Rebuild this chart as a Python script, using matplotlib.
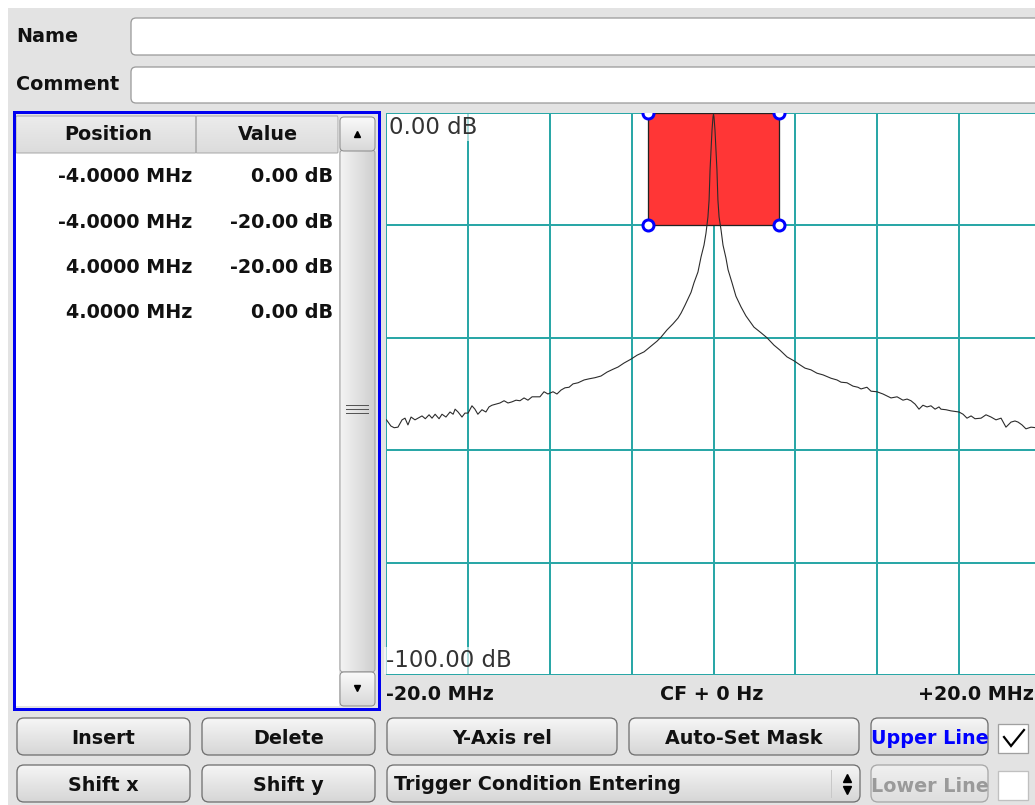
import numpy as np
import matplotlib
matplotlib.use("Agg")
import matplotlib.pyplot as plt
from matplotlib.patches import FancyBboxPatch, Rectangle
from matplotlib.colors import LinearSegmentedColormap

# ---------------- data ----------------
mask_freq = [-4.0, -4.0, 4.0, 4.0]          # MHz
mask_db = [0.0, -20.0, -20.0, 0.0]          # dB

trace_freq = [
    -19.97, -19.7, -19.5, -19.27, -19.02, -18.84, -18.66, -18.47, -18.23, -18.05,
    -17.8, -17.6, -17.37, -17.19, -17.0, -16.76, -16.58, -16.34, -16.09, -15.9,
    -15.78, -15.6, -15.36, -15.18, -14.99, -14.75, -14.57, -14.39, -14.14, -13.9,
    -13.71, -13.53, -13.28, -13.04, -12.79, -12.55, -12.31, -12.06, -11.82, -11.57,
    -11.33, -11.08, -10.84, -10.6, -10.35, -10.11, -9.8, -9.56, -9.31, -9.07,
    -8.82, -8.58, -8.27, -7.9, -7.6, -7.24, -6.87, -6.5, -6.14, -5.83,
    -5.47, -5.04, -4.67, -4.24, -3.82, -3.45, -3.21, -2.84, -2.47, -2.17,
    -1.98, -1.74, -1.56, -1.37, -1.19, -0.95, -0.76, -0.58, -0.46, -0.34,
    -0.27, -0.21, -0.15, -0.09, -0.03, 0.0,
    0.03, 0.09, 0.15, 0.21, 0.27, 0.34, 0.46, 0.58, 0.76, 0.89,
    1.13, 1.37, 1.68, 1.98, 2.47, 2.9, 3.27, 3.69, 4.06, 4.49,
    4.92, 5.22, 5.59, 5.95, 6.32, 6.69, 7.18, 7.54, 7.79, 8.15,
    8.52, 8.82, 9.01, 9.37, 9.62, 9.98, 10.35, 10.84, 11.21, 11.57,
    11.82, 12.06, 12.31, 12.55, 12.79, 13.04, 13.28, 13.53, 13.77, 13.89,
    14.2, 14.5, 14.99, 15.24, 15.48, 15.73, 15.97, 16.34, 16.64, 16.95,
    17.25, 17.56, 17.86, 18.17, 18.41, 18.6, 18.84, 19.08, 19.39, 19.69, 20.0,
]
trace_db = [
    -54.6, -55.7, -56.0, -55.9, -54.6, -54.3, -55.5, -54.1, -54.6, -54.3,
    -53.9, -54.4, -53.7, -54.3, -53.6, -54.4, -53.6, -54.1, -53.2, -53.6,
    -52.7, -53.2, -54.1, -53.4, -53.4, -52.1, -52.7, -53.6, -52.8, -53.2,
    -52.3, -52.0, -51.8, -51.6, -51.2, -51.6, -51.4, -51.1, -51.2, -50.7,
    -51.1, -50.5, -50.5, -50.5, -49.6, -50.0, -49.6, -50.0, -49.3, -48.9,
    -48.8, -48.2, -48.0, -47.5, -47.3, -47.1, -46.8, -46.1, -45.6, -45.2,
    -44.5, -43.8, -43.1, -42.5, -41.5, -40.6, -39.9, -38.6, -37.5, -36.5,
    -35.6, -34.2, -33.1, -31.9, -30.2, -28.3, -25.6, -23.5, -21.4, -18.5,
    -15.5, -10.1, -6.6, -3.0, -0.7, -0.2,
    -0.7, -3.0, -6.6, -10.1, -15.5, -18.5, -20.8, -23.5, -25.8, -27.9,
    -30.2, -32.6, -34.5, -36.1, -38.1, -39.1, -40.0, -41.3, -42.2, -43.4,
    -44.1, -44.7, -45.4, -45.7, -46.3, -46.6, -47.2, -47.5, -47.9, -48.0,
    -48.6, -48.8, -49.1, -48.8, -49.5, -49.6, -50.0, -50.7, -50.5, -51.1,
    -50.9, -51.2, -51.8, -52.7, -52.0, -52.3, -52.1, -52.7, -52.3, -52.7,
    -52.8, -53.0, -53.2, -53.6, -54.3, -53.9, -54.4, -54.3, -53.7, -54.1,
    -54.6, -54.3, -55.9, -55.0, -54.8, -55.0, -55.5, -56.2, -55.9, -56.0, -56.0,
]

x_span = (-20.0, 20.0)
y_span = (-100.0, 0.0)
x_div = 5.0
y_div = 20.0
y_top_label = "0.00 dB"
y_bot_label = "-100.00 dB"
x_labels = ["-20.0 MHz", "CF + 0 Hz", "+20.0 MHz"]
col_headers = ["Position", "Value"]
buttons_row1 = ["Insert", "Delete", "Y-Axis rel", "Auto-Set Mask"]
buttons_row2 = ["Shift x", "Shift y"]
dropdown_text = "Trigger Condition Entering"
line_buttons = ["Upper Line", "Lower Line"]
field_labels = ["Name", "Comment"]

# ---------------- figure ----------------
W, H = 1035, 805
PT = 0.72
FS = 13.8
FONT = "DejaVu Sans"
fig = plt.figure(figsize=(W / 100, H / 100), dpi=100, facecolor="white")
ui = fig.add_axes([0, 0, 1, 1])
ui.axis("off")


def grad_box(x0, y0, x1, y1, c_top, c_bot, ec, r=6, lw=1.0, horizontal=False, z=2):
    patch = FancyBboxPatch((x0, y0), x1 - x0, y1 - y0,
                           boxstyle=f"round,pad=0,rounding_size={r}",
                           fc="none", ec=ec, lw=lw * PT, zorder=z + 0.1)
    ui.add_patch(patch)
    cmap = LinearSegmentedColormap.from_list("g", [c_top, c_bot])
    g = np.linspace(0, 1, 64)
    g = g.reshape(1, -1) if horizontal else g.reshape(-1, 1)
    im = ui.imshow(g, cmap=cmap, extent=(x0, x1, y1, y0), aspect="auto",
                   zorder=z, interpolation="bilinear")
    im.set_clip_path(patch)
    return patch


def label(x, y, s, ha="center", color="#111111", size=FS, weight="bold", z=5):
    ui.text(x, y, s, ha=ha, va="center", color=color, fontsize=size,
            fontweight=weight, family=FONT, zorder=z)


# background panel
ui.add_patch(Rectangle((8, 8), W, H, fc="#e3e3e3", ec="none", zorder=0))

# name / comment fields
for (ytop, ybot), txt in zip([(18, 55), (67, 103)], field_labels):
    ui.add_patch(FancyBboxPatch((131, ytop), 930, ybot - ytop,
                                boxstyle="round,pad=0,rounding_size=5",
                                fc="white", ec="#9c9c9c", lw=1.3 * PT, zorder=1))
    label(16, (ytop + ybot) / 2, txt, ha="left")

# ---- table ----
ui.add_patch(Rectangle((16, 116), 323, 590, fc="white", ec="none", zorder=1))
grad_box(16, 116, 196, 153, "#ececec", "#dcdcdc", "#a8a8a8", r=1, z=2)
grad_box(196, 116, 338, 153, "#ececec", "#dcdcdc", "#a8a8a8", r=1, z=2)
label(108, 134, col_headers[0])
label(268, 134, col_headers[1])
for i, (f, d) in enumerate(zip(mask_freq, mask_db)):
    yy = 177 + 45 * i
    label(192, yy, f"{f:.4f} MHz", ha="right")
    label(333, yy, f"{d:.2f} dB", ha="right")
# scrollbar
grad_box(340, 150, 375, 672, "#f4f4f4", "#cfcfcf", "#a0a0a0", r=3, horizontal=True, z=2)
grad_box(340, 117, 375, 151, "#fafafa", "#d8d8d8", "#8a8a8a", r=4, z=3)
grad_box(340, 672, 375, 706, "#fafafa", "#d8d8d8", "#8a8a8a", r=4, z=3)
ui.plot([357], [134], marker="^", ms=5, color="black", zorder=6)
ui.plot([357], [688], marker="v", ms=5, color="black", zorder=6)
for yy in (405, 409, 413):
    ui.plot([346, 368], [yy, yy], color="#555555", lw=1 * PT, zorder=6)
# blue focus border
ui.add_patch(Rectangle((13.5, 112.5), 365, 596, fc="none", ec="#0000f0", lw=3 * PT, zorder=7))

# ---- axis labels below plot ----
label(386, 694, x_labels[0], ha="left")
label(712, 694, x_labels[1], ha="center")
label(1034, 694, x_labels[2], ha="right")

# ---- buttons ----
btn_c1, btn_c2, btn_ec = "#f6f6f6", "#d6d6d6", "#707070"
row1_x = [(17, 190), (202, 375), (387, 617), (629, 859)]
for (x0, x1), txt in zip(row1_x, buttons_row1):
    grad_box(x0, 718, x1, 755, btn_c1, btn_c2, btn_ec, r=7, lw=1.3)
    label((x0 + x1) / 2, 738, txt)
for (x0, x1), txt in zip(row1_x[:2], buttons_row2):
    grad_box(x0, 765, x1, 802, btn_c1, btn_c2, btn_ec, r=7, lw=1.3)
    label((x0 + x1) / 2, 785, txt)
# dropdown
grad_box(387, 765, 860, 802, btn_c1, btn_c2, btn_ec, r=7, lw=1.3)
label(394, 784, dropdown_text, ha="left")
ui.plot([831, 831], [770, 797], color="#c8c8c8", lw=1 * PT, zorder=6)
ui.plot([847], [778], marker="^", ms=5.5, color="black", zorder=6)
ui.plot([847], [790], marker="v", ms=5.5, color="black", zorder=6)
# upper / lower line
grad_box(871, 718, 988, 755, btn_c1, btn_c2, btn_ec, r=7, lw=1.3)
label(930, 738, line_buttons[0], color="#0000ff")
grad_box(871, 765, 988, 802, "#f0f0f0", "#dedede", "#a8a8a8", r=7, lw=1.3)
label(930, 786, line_buttons[1], color="#9a9a9a")
# checkboxes
ui.add_patch(Rectangle((998, 724), 30, 29, fc="white", ec="#a0a0a0", lw=1.3 * PT, zorder=3))
ui.plot([1004, 1011, 1024], [737, 746, 730], color="black", lw=2.2 * PT, zorder=6,
        solid_joinstyle="miter")
ui.add_patch(Rectangle((998, 771), 30, 29, fc="white", ec="#c0c0c0", lw=1.3 * PT, zorder=3))

ui.set_xlim(0, W)
ui.set_ylim(H, 0)

# ---------------- plot area ----------------
px_l, px_r, px_t, px_b = 386, 1041, 113, 675
ax = fig.add_axes([px_l / W, 1 - px_b / H, (px_r - px_l) / W, (px_b - px_t) / H])
ax.set_facecolor("white")
ax.set_xlim(*x_span)
ax.set_ylim(*y_span)
for s in ax.spines.values():
    s.set_visible(False)
ax.set_xticks([])
ax.set_yticks([])
grid_c = "#2aa7a7"
for xv in np.arange(x_span[0], x_span[1] + 0.01, x_div):
    ax.axvline(xv, color=grid_c, lw=2.0 * PT, zorder=0.5)
for yv in np.arange(y_span[0], y_span[1] + 0.01, y_div):
    ax.axhline(yv, color=grid_c, lw=2.0 * PT, zorder=0.5)

ax.fill(mask_freq, mask_db, fc="#ff3636", ec="#222222", lw=1.3 * PT, zorder=2)
ax.plot(trace_freq, trace_db, color="#2b2b2b", lw=1.1 * PT, zorder=3)
ax.plot(mask_freq, mask_db, ls="none", marker="o", ms=11 * PT, mfc="white",
        mec="#0000ff", mew=3 * PT, zorder=4)

ax.text(0.004, 0.995, y_top_label, transform=ax.transAxes, ha="left", va="top",
        fontsize=16.5, color="#333333", family=FONT,
        bbox=dict(fc="white", ec="none", alpha=0.6, pad=1.5), zorder=5)
ax.text(0.0, 0.005, y_bot_label, transform=ax.transAxes, ha="left", va="bottom",
        fontsize=16.5, color="#333333", family=FONT,
        bbox=dict(fc="white", ec="none", alpha=0.6, pad=1.5), zorder=5)

fig.savefig("out.png", dpi=100, facecolor=fig.get_facecolor())
